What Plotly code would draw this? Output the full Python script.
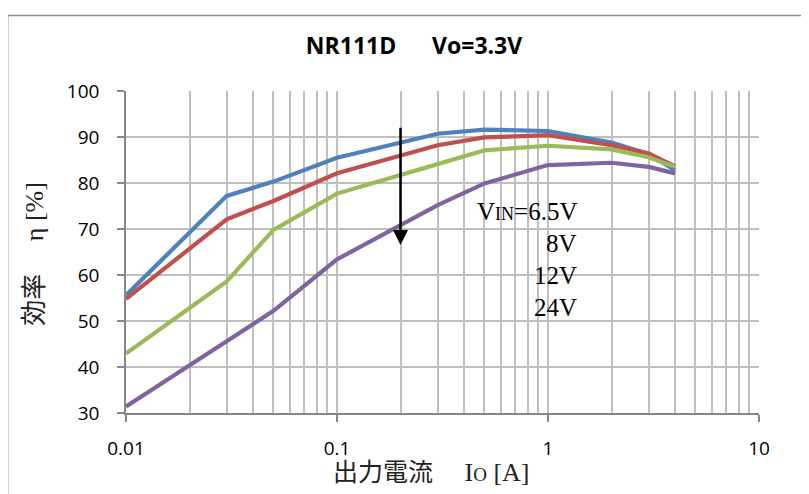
import numpy as np
import plotly.graph_objects as go

# ---- data ----
io_a = [0.01, 0.03, 0.05, 0.1, 0.3, 0.5, 1, 2, 3, 4]
eff_6v5 = [55.6, 77.2, 80.3, 85.5, 90.7, 91.6, 91.3, 88.8, 86.3, 82.8]
eff_8v = [54.8, 72.1, 76.1, 82.1, 88.2, 89.9, 90.4, 88.2, 86.4, 83.6]
eff_12v = [42.9, 58.6, 69.8, 77.7, 84.1, 87.1, 88.1, 87.3, 85.6, 83.5]
eff_24v = [31.4, 45.5, 52.2, 63.4, 75.2, 79.9, 83.9, 84.4, 83.5, 82.1]
series_names = ["6.5V", "8V", "12V", "24V"]
series_colors = ["#4F81BD", "#C0504D", "#9BBB59", "#8064A2"]

x_tick_vals = [0.01, 0.1, 1, 10]
x_tick_text = ["0.01", "0.1", "1", "10"]
minor_vals = [k * 10.0 ** d for d in (-2, -1, 0) for k in range(2, 10)]

arrow_x = [0.2, 0.2]
arrow_y = [92.0, 68.0]
arrow_tip = 66.5

vin_labels = ["V<span style='font-size:18px'>IN</span>=6.5V", "8V", "12V", "24V"]
vin_label_y = [73.7, 66.75, 59.8, 52.95]
vin_label_x = 1.41

title_text = "NR111D" + "\u00a0" * 6 + "Vo=3.3V"
xtitle_text = ("<span style='font-size:25px'>出力電流\u3000</span>"
               "\u00a0I<span style='font-size:19px'>O</span> [A]")
ytitle_text = "効率\u3000\u00a0η [%]"

# ---- figure ----
fig = go.Figure()
for name, ys, col in zip(series_names, [eff_6v5, eff_8v, eff_12v, eff_24v], series_colors):
    fig.add_trace(go.Scatter(x=io_a, y=ys, mode="lines", name=name,
                             line=dict(color=col, width=4.2)))

fig.add_trace(go.Scatter(x=arrow_x, y=arrow_y, mode="lines",
                         line=dict(color="black", width=2.5), hoverinfo="skip"))
fig.add_trace(go.Scatter(x=[arrow_x[0]], y=[arrow_tip], mode="markers",
                         marker=dict(symbol="arrow-down", size=15, color="black"),
                         hoverinfo="skip"))

grid_col = "#BFBFBF"
axis_col = "#868686"

fig.update_xaxes(type="log", range=[-2, 1], tickvals=x_tick_vals, ticktext=x_tick_text,
                 showgrid=True, gridcolor=grid_col, gridwidth=1.5,
                 ticks="outside", ticklen=7, tickcolor=axis_col, tickwidth=1.5,
                 showline=True, linecolor=axis_col, linewidth=1.5, zeroline=False,
                 ticklabelstandoff=10,
                 minor=dict(tickvals=minor_vals, showgrid=True, gridcolor=grid_col,
                            gridwidth=1.5, ticks=""),
                 tickfont=dict(family="Open Sans", size=19, color="black"))
fig.update_yaxes(range=[30, 100], dtick=10, showgrid=True, gridcolor=grid_col, gridwidth=1.5,
                 ticks="outside", ticklen=7, tickcolor=axis_col, tickwidth=1.5,
                 showline=True, linecolor=axis_col, linewidth=1.5, zeroline=False,
                 ticklabelstandoff=14,
                 tickfont=dict(family="Open Sans", size=19, color="black"))

# page offset (browser default body margin of the written page)
OFF = 8
FW, FH = 809 - OFF, 494 - OFF
L, R, T, B = 125.5, 759.5, 90.7, 413.3   # plot area in window pixels
W, H = R - L, B - T

def px_x(p):
    return (p - L) / W

def px_y(p):
    return (B - p) / H

annotations = [
    dict(text=t, x=np.log10(vin_label_x), y=yv, xref="x", yref="y",
         xanchor="right", yanchor="middle", align="right", showarrow=False,
         font=dict(family="Liberation Serif", size=25, color="black"))
    for t, yv in zip(vin_labels, vin_label_y)
]
annotations += [
    dict(text=xtitle_text, x=px_x(431), y=px_y(473), xref="paper", yref="paper",
         xanchor="center", yanchor="middle", showarrow=False,
         font=dict(family="Liberation Serif, Noto Sans CJK JP", size=26, color="#222222")),
    dict(text=ytitle_text, x=px_x(34), y=px_y(254), xref="paper", yref="paper",
         xanchor="center", yanchor="middle", textangle=-90, showarrow=False,
         font=dict(family="Liberation Serif, Noto Sans CJK JP", size=26, color="#222222")),
]

fig.update_layout(
    width=FW, height=FH,
    margin=dict(l=L - OFF, r=FW - (R - OFF), t=T - OFF, b=FH - (B - OFF), autoexpand=False),
    paper_bgcolor="white", plot_bgcolor="white",
    showlegend=False,
    title=dict(text=title_text, x=px_x(414), xref="paper", xanchor="center",
               y=1 - (45.7 - OFF) / FH, yref="container", yanchor="middle",
               font=dict(family="Open Sans", size=23, color="black", weight="bold")),
    annotations=annotations,
    shapes=[
        dict(type="rect", xref="paper", yref="paper",
             x0=px_x(7), x1=px_x(830), y0=px_y(520), y1=px_y(15),
             line=dict(color="#8C8C8C", width=1.5), fillcolor="rgba(0,0,0,0)", layer="below"),
    ],
)

fig.write_html(
    "out.html",
    post_script="document.documentElement.style.overflow='hidden';"
                "document.body.style.overflow='hidden';",
)
